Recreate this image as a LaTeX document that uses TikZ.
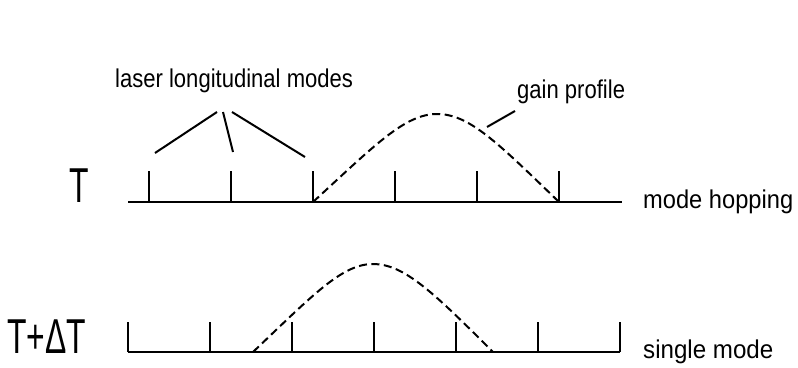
\documentclass[tikz,border=0pt]{standalone}
\usepackage{fontspec}
\setmainfont{Liberation Sans}
\usepackage{graphicx}
\newcommand{\lbltext}[2]{{\fontsize{24.5}{24.5}\selectfont\scalebox{#1}[1.05]{#2}}}
\newcommand{\bigT}[1]{{\fontsize{49}{49}\selectfont\scalebox{0.65}[1]{#1}}}
\begin{document}
\begin{tikzpicture}[x=1pt,y=-1pt,
  axis/.style={line width=2pt},
  tick/.style={line width=2pt},
  leader/.style={line width=2pt},
  gain/.style={line width=2pt, dash pattern=on 8pt off 4.5pt},
  lbl/.style={inner sep=0pt, anchor=base west}]
\useasboundingbox (0,0) rectangle (798,367);

% ---------- labels ----------
\node[lbl] (modes) at (115,87) {\lbltext{0.9}{laser longitudinal modes}};
\node[lbl] (gainlbl) at (517,98) {\lbltext{0.9}{gain profile}};
\node[lbl] (hop) at (643,208) {\lbltext{0.966}{mode hopping}};
\node[lbl] (single) at (643,358) {\lbltext{0.985}{single mode}};
\node[lbl] (T1) at (69,202) {\bigT{T}};
\node[lbl] (T2) at (7,353) {\bigT{T+ΔT}};

% ---------- top row (T) ----------
\coordinate (a0) at (128,202);
\coordinate (a1) at (622,202);
\draw[axis] (a0) -- (a1);
\foreach \x [count=\i] in {149,231,313,395,477,559} {
  \coordinate (ta\i) at (\x,202);
  \coordinate (tt\i) at (\x,171);
  \draw[tick] (ta\i) -- (tt\i);
}
\coordinate (gpk1) at (437,114);
\draw[gain] (ta3) .. controls (375,145) and (405,114) .. (gpk1)
                  .. controls (469,114) and (497,142) .. (ta6);

% leaders
\coordinate (l1s) at (217,112); \coordinate (l1e) at (155,153);
\coordinate (l2s) at (223,112); \coordinate (l2e) at (233,152);
\coordinate (l3s) at (232,112); \coordinate (l3e) at (305,157);
\draw[leader] (l1s) -- (l1e);
\draw[leader] (l2s) -- (l2e);
\draw[leader] (l3s) -- (l3e);
\coordinate (g1s) at (515,111); \coordinate (g1e) at (487,127);
\draw[leader] (g1s) -- (g1e);

% ---------- bottom row (T + Delta T) ----------
\coordinate (b0) at (128,352);
\coordinate (b1) at (620,352);
\draw[axis] (b0) -- (b1);
\foreach \x [count=\i] in {128,210,292,374,456,538,620} {
  \coordinate (ba\i) at (\x,352);
  \coordinate (bt\i) at (\x,322);
  \draw[tick] (ba\i) -- (bt\i);
}
\coordinate (gs2) at (253,352);
\coordinate (gpk2) at (373,264);
\coordinate (ge2) at (493,352);
\draw[gain] (gs2) .. controls (313,295) and (342,264) .. (gpk2)
                  .. controls (404,264) and (433,292) .. (ge2);
\end{tikzpicture}
\end{document}
